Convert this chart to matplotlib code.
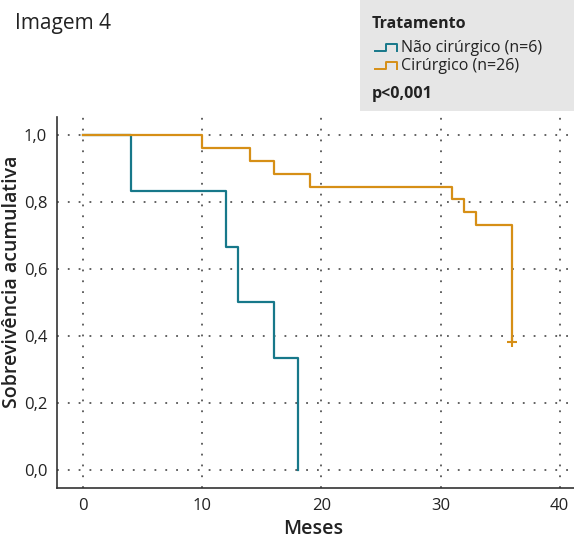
import matplotlib
matplotlib.use('Agg')
import matplotlib.pyplot as plt
from matplotlib.lines import Line2D
from matplotlib.patches import Rectangle

# ---------------------------------------------------------------------------
# Data (Kaplan-Meier steps)
# ---------------------------------------------------------------------------

naocir_t = [0, 4, 12, 13, 16, 18]
naocir_s = [1.0, 0.833, 0.667, 0.5, 0.333, 0.0]

cir_t = [0, 10, 14, 16, 19, 31, 32, 33, 36]
cir_s = [1.0, 0.962, 0.923, 0.885, 0.846, 0.808, 0.769, 0.731, 0.383]
cir_censor_t = [36]
cir_censor_s = [0.383]

x_ticks = [0, 10, 20, 30, 40]
y_ticks = [0.0, 0.2, 0.4, 0.6, 0.8, 1.0]

TEAL = "#17788a"
ORANGE = "#d68f16"
TXT = "#222222"

plt.rcParams['font.family'] = ["Open Sans", "DejaVu Sans"]

fig = plt.figure(figsize=(5.74, 5.39), dpi=100)
ax = fig.add_axes([0.0993, 0.0946, 0.9007, 0.6884])

ax.step(naocir_t, naocir_s, where='post', color=TEAL, linewidth=1.6)
ax.step(cir_t, cir_s, where='post', color=ORANGE, linewidth=1.6)
ax.plot(cir_censor_t, cir_censor_s, '+', color=ORANGE, markersize=7, mew=1.5)

ax.set_xlim(-2.2, 41.2)
ax.set_ylim(-0.054, 1.054)
ax.set_xticks(x_ticks)
ax.set_yticks(y_ticks)
ax.set_yticklabels([f"{v:.1f}".replace('.', ',') for v in y_ticks])
ax.tick_params(length=0, labelsize=12, colors=TXT, pad=7)
ax.grid(True, color="#555555", linestyle=(0, (1, 5)), linewidth=1.3)
ax.set_axisbelow(True)

ax.spines['top'].set_visible(False)
ax.spines['right'].set_visible(False)
for s in ('left', 'bottom'):
    ax.spines[s].set_color("#333333")
    ax.spines[s].set_linewidth(1.2)

ax.set_xlabel("Meses", fontsize=14, fontweight='semibold', color=TXT)
ax.set_ylabel("Sobrevivência acumulativa", fontsize=14, fontweight='semibold', color=TXT)
ax.xaxis.set_label_coords(0.495, -0.083)
ax.yaxis.set_label_coords(-0.068, 0.555)

fig.text(15 / 574, 1 - 24 / 539, "Imagem 4", fontsize=15, va='center', ha='left',
         color=TXT)

# legend box
fig.patches.append(Rectangle((360 / 574, 1 - 111 / 539), 214 / 574, 111 / 539,
                             transform=fig.transFigure, facecolor="#e6e6e6",
                             edgecolor='none', zorder=0))
fig.text(372 / 574, 1 - 24 / 539, "Tratamento", fontsize=11.5, fontweight='bold',
         va='center', ha='left', color=TXT)
for (yc, col, lab) in [(48, TEAL, "Não cirúrgico (n=6)"),
                       (66, ORANGE, "Cirúrgico (n=26)")]:
    xs = [375, 386, 386, 397, 397]
    ys = [yc + 3, yc + 3, yc - 4, yc - 4, yc + 3]
    fig.add_artist(Line2D([x / 574 for x in xs], [1 - y / 539 for y in ys],
                          transform=fig.transFigure, color=col, linewidth=1.4))
    fig.text(401 / 574, 1 - yc / 539, lab, fontsize=11.5, va='center', ha='left',
             color=TXT)
fig.text(372 / 574, 1 - 94 / 539, "p<0,001", fontsize=11.5, fontweight='bold',
         va='center', ha='left', color=TXT)

fig.savefig("out.png", dpi=100)
